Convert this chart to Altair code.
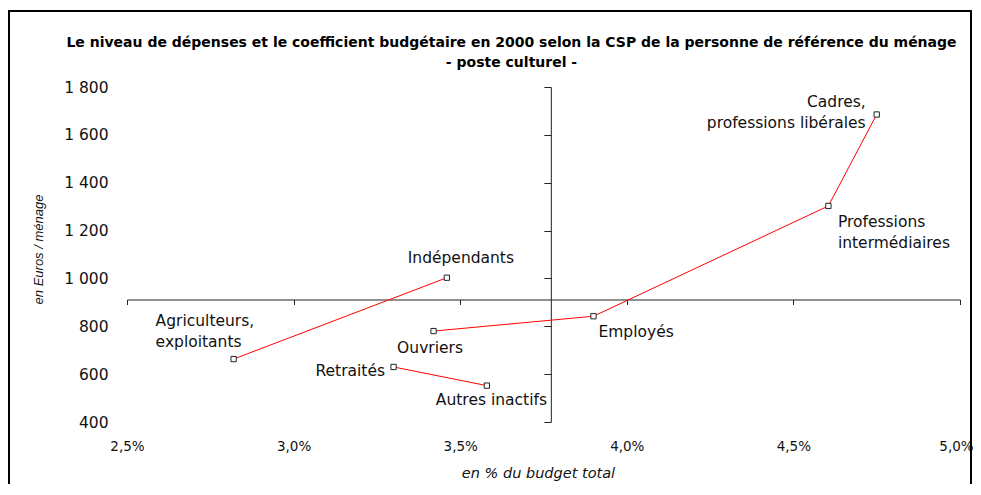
import altair as alt
import pandas as pd

# ---- data ----
csp = [
    "Agriculteurs, exploitants",
    "Indépendants",
    "Cadres, professions libérales",
    "Professions intermédiaires",
    "Employés",
    "Ouvriers",
    "Retraités",
    "Autres inactifs",
]
label_text = [
    "Agriculteurs,\nexploitants",
    "Indépendants",
    "Cadres,\nprofessions libérales",
    "Professions\nintermédiaires",
    "Employés",
    "Ouvriers",
    "Retraités",
    "Autres inactifs",
]
pct_budget = [2.82, 3.46, 4.75, 4.605, 3.90, 3.42, 3.30, 3.58]   # en % du budget total
euros_menage = [663, 1003, 1685, 1303, 842, 780, 630, 552]        # en euros / ménage
segment = ["A", "A", "B", "B", "B", "B", "C", "C"]
seg_order = [1, 2, 1, 2, 3, 4, 1, 2]

x_ticks = [2.5, 3.0, 3.5, 4.0, 4.5, 5.0]
y_ticks = [400, 600, 800, 1000, 1200, 1400, 1600, 1800]
X_CROSS = 3.772   # where the vertical axis crosses
Y_CROSS = 912     # where the horizontal axis crosses

title_lines = [
    "Le niveau de dépenses et le coefficient budgétaire en 2000 selon la CSP de la personne de référence du ménage",
    "- poste culturel -",
]

# ---- layout / style ----
W, H = 833, 335
X_DOM = [2.5, 5.0]
Y_DOM = [400, 1800]
xpix_cross = (X_CROSS - X_DOM[0]) / (X_DOM[1] - X_DOM[0]) * W
ypix_cross = (Y_DOM[1] - Y_CROSS) / (Y_DOM[1] - Y_DOM[0]) * H

# (align, dx, dy of first line)
label_style = {
    "Agriculteurs, exploitants": ("left", -78, -38),
    "Indépendants": ("center", 14, -20),
    "Cadres, professions libérales": ("right", -11, -12.5),
    "Professions intermédiaires": ("left", 9.5, 16),
    "Employés": ("left", 5, 16),
    "Ouvriers": ("center", -3.5, 16.5),
    "Retraités": ("right", -8.5, 4.5),
    "Autres inactifs": ("left", -51, 14.7),
}

df = pd.DataFrame({
    "csp": csp,
    "lab": label_text,
    "pct": pct_budget,
    "eur": euros_menage,
    "seg": segment,
    "ord": seg_order,
})

xs = alt.Scale(domain=X_DOM, nice=False, zero=False)
ys = alt.Scale(domain=Y_DOM, nice=False, zero=False)

ax_x_lab = alt.Axis(
    orient="bottom", values=x_ticks, domain=False, ticks=False, grid=False,
    labelExpr="replace(format(datum.value, '.1f'), '.', ',') + '%'",
    labelFont="DejaVu Sans", labelFontSize=13.5, labelColor="#111",
    labelPadding=17, labelFlush=False, labelOverlap=False,
    labelOffset={"condition": {"test": "datum.value >= 5", "value": -4}, "value": 0},
    title="en % du budget total", titleFont="DejaVu Sans", titleFontStyle="italic",
    titleFontWeight="normal", titleFontSize=14.5, titleColor="#111",
    titleX=411, titleY=51, titleBaseline="middle", titleAlign="center",
)
ax_y_lab = alt.Axis(
    orient="left", values=y_ticks, domain=False, ticks=False, grid=False,
    labelExpr="replace(format(datum.value, ','), ',', ' ')",
    labelFont="DejaVu Sans", labelFontSize=15.5, labelColor="#111",
    labelPadding=19, labelFlush=False, labelOverlap=False,
    title="en Euros / ménage", titleFont="Liberation Sans Narrow, Liberation Sans, Arial",
    titleFontStyle="italic", titleFontWeight="normal", titleFontSize=13,
    titleColor="#111", titleX=-89, titleY=162, titleAngle=-90,
    titleBaseline="middle", titleAlign="center",
)
ax_x_cross = alt.Axis(
    orient="bottom", values=x_ticks, labels=False, grid=False,
    domain=True, domainColor="#222", domainWidth=1,
    ticks=True, tickColor="#222", tickWidth=1, tickSize=5,
    title=None, offset=-(H - ypix_cross),
)
ax_y_cross = alt.Axis(
    orient="left", values=y_ticks, labels=False, grid=False,
    domain=True, domainColor="#222", domainWidth=1,
    ticks=True, tickColor="#222", tickWidth=1, tickSize=7,
    title=None, offset=-xpix_cross,
)

base = alt.Chart(df)

frame = alt.Chart(pd.DataFrame({"f": [0]})).mark_rect(
    fillOpacity=0, stroke="black", strokeWidth=2
).encode(
    x=alt.value(-118), x2=alt.value(844), y=alt.value(-76), y2=alt.value(440)
)

lines = base.mark_line(color="#FF0000", strokeWidth=1).encode(
    x=alt.X("pct:Q", scale=xs, axis=ax_x_cross),
    y=alt.Y("eur:Q", scale=ys, axis=ax_y_cross),
    detail="seg:N",
    order="ord:Q",
)

points = base.mark_square(size=28, fill="white", stroke="#222", strokeWidth=1, opacity=1).encode(
    x=alt.X("pct:Q", scale=xs, axis=ax_x_lab),
    y=alt.Y("eur:Q", scale=ys, axis=ax_y_lab),
)

texts = []
for name in csp:
    align, dx, dy = label_style[name]
    texts.append(
        base.transform_filter(alt.datum.csp == name).mark_text(
            align=align, dx=dx, dy=dy, baseline="middle", lineBreak="\n",
            font="DejaVu Sans", fontSize=15.5, lineHeight=21, color="#111",
        ).encode(
            x=alt.X("pct:Q", scale=xs, axis=None),
            y=alt.Y("eur:Q", scale=ys, axis=None),
            text="lab:N",
        )
    )

chart = alt.layer(frame, lines, points, *texts).resolve_axis(
    x="independent", y="independent"
).properties(
    width=W, height=H,
    autosize=alt.AutoSizeParams(type="none"),
    padding={"left": 119, "top": 79, "right": 13, "bottom": 62},
    background="white",
    title=alt.TitleParams(
        title_lines, font="DejaVu Sans", fontSize=14, fontWeight="bold",
        anchor="middle", frame="group", dx=-32, offset=-60, lineHeight=20,
        color="#000",
    ),
).configure_view(stroke="transparent")

chart.save("out.html", embed_options={"renderer": "svg", "actions": False})
